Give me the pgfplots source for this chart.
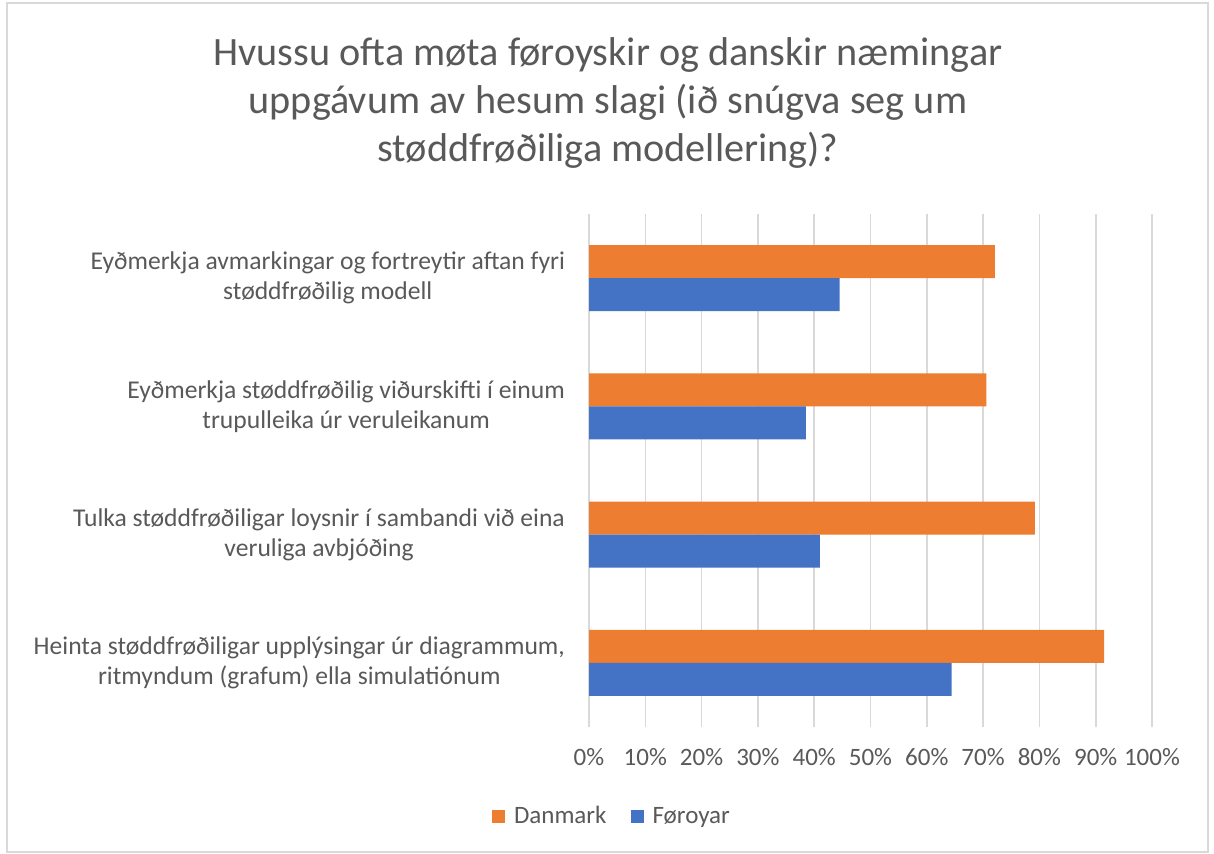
\documentclass[border=0pt]{standalone}
\usepackage{fontspec}
\setmainfont{Carlito}
\usepackage{pgfplots}
\pgfplotsset{compat=1.18}
\definecolor{dkorange}{HTML}{ED7D31}
\definecolor{dkblue}{HTML}{4472C4}
\definecolor{txtgray}{HTML}{595959}
\definecolor{gridgray}{HTML}{D9D9D9}
\begin{document}
\begin{tikzpicture}
% 1px of the reference = 0.5pt
\useasboundingbox (0,0) rectangle (607pt,427pt);
\draw[gridgray, line width=0.6pt] (3.5pt,1pt) rectangle (604pt,425.5pt);
\node[align=center, text=txtgray, font=\fontsize{20.1}{24.2}\selectfont]
  at (304pt,375.5pt) {Hvussu ofta møta føroyskir og danskir næmingar\\
  uppgávum av hesum slagi (ið snúgva seg um\\
  støddfrøðiliga modellering)?};
\begin{axis}[
    at={(294.5pt,63.5pt)}, anchor=south west,
    scale only axis,
    width=281.5pt, height=256.5pt,
    xbar, bar width=16.5pt,
    xmin=0, xmax=100,
    ymin=-0.5, ymax=3.5,
    y dir=reverse,
    xtick={0,10,...,100},
    xticklabel={\pgfmathprintnumber[assume math mode=true]{\tick}\%},
    ytick={0,1,2,3},
    yticklabels={
      {Eyðmerkja avmarkingar og fortreytir aftan fyri\\støddfrøðilig modell},
      {Eyðmerkja støddfrøðilig viðurskifti í einum\\trupulleika úr veruleikanum},
      {Tulka støddfrøðiligar loysnir í sambandi við eina\\veruliga avbjóðing},
      {Heinta støddfrøðiligar upplýsingar úr diagrammum,\\ritmyndum (grafum) ella simulatiónum}},
    yticklabel style={align=center, text=txtgray, xshift=-8.5pt,
      font=\fontsize{12.8}{15}\selectfont},
    xticklabel style={text=txtgray, yshift=-7pt,
      font=\fontsize{12.5}{15}\selectfont},
    major tick length=0pt,
    axis line style={draw=none},
    xmajorgrids, grid style={gridgray, line width=0.8pt},
    legend columns=2,
    legend style={at={(0.0426,-0.175)}, anchor=center, draw=none,
      text=txtgray, font=\fontsize{12.5}{15}\selectfont,
      /tikz/every even column/.append style={column sep=10pt}},
    legend image code/.code={\fill[#1] (0pt,-3.25pt) rectangle (6.5pt,3.25pt);
      \path (9pt,0pt);},
]
\addplot[fill=dkorange, draw=none, bar shift=8.25pt]
  coordinates {(72.1,0) (70.6,1) (79.2,2) (91.5,3)};
\addlegendentry{Danmark}
\addplot[fill=dkblue, draw=none, bar shift=-8.25pt]
  coordinates {(44.5,0) (38.5,1) (41.0,2) (64.4,3)};
\addlegendentry{Føroyar}
\end{axis}
\end{tikzpicture}
\end{document}
